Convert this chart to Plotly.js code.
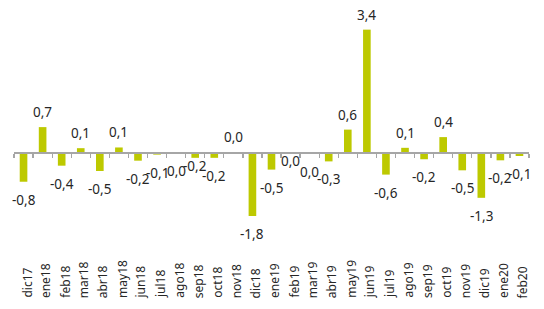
<!DOCTYPE html>
<html>
<head>
<meta charset="utf-8">
<script src="https://cdn.plot.ly/plotly-3.0.1.min.js"></script>
<style>
  html, body { margin: 0; padding: 0; background: #ffffff; }
  #chart { width: 544px; height: 309px; }
</style>
</head>
<body>
<div id="chart"></div>
<script>
// Categories (months)
const categories = ["dic17","ene18","feb18","mar18","abr18","may18","jun18","jul18","ago18","sep18","oct18","nov18","dic18",
                    "ene19","feb19","mar19","abr19","may19","jun19","jul19","ago19","sep19","oct19","nov19","dic19","ene20","feb20"];
// Values
const values = [-0.82, 0.71, -0.37, 0.12, -0.52, 0.14, -0.23, -0.06, -0.01, -0.15, -0.15, 0.01, -1.78,
                -0.48, -0.01, -0.03, -0.25, 0.64, 3.44, -0.62, 0.13, -0.19, 0.43, -0.5, -1.27, -0.22, -0.1];
// Data labels as printed on the chart
const valueLabels = ["-0,8","0,7","-0,4","0,1","-0,5","0,1","-0,2","-0,1","0,0","-0,2","-0,2","0,0","-1,8",
                     "-0,5","0,0","0,0","-0,3","0,6","3,4","-0,6","0,1","-0,2","0,4","-0,5","-1,3","-0,2","-0,1"];
// Tick labels
const tickLabels = categories.slice();

const yMin = -4.02, yMax = 3.99;
const barColor = '#bdc900';
const textColor = '#262626';
const fontFam = '"Noto Sans", "Open Sans", "DejaVu Sans", sans-serif';

// label nudges where labels were moved in the original
const labelNudge = { sep18: 10, feb19: 10 };

const annotations = [];
values.forEach((v, i) => {
  const pos = v > 0;
  let shift = pos ? 15 : -18;
  if (labelNudge[categories[i]]) shift += labelNudge[categories[i]];
  annotations.push({
    xref: 'x', yref: 'y', x: i, y: v,
    text: valueLabels[i], showarrow: false,
    xanchor: 'center', yanchor: 'middle', yshift: shift,
    font: { family: fontFam, size: 13.5, color: textColor }
  });
});
tickLabels.forEach((t, i) => {
  annotations.push({
    xref: 'x', yref: 'paper', x: i, y: 0,
    text: t, showarrow: false, textangle: -90,
    xanchor: 'center', yanchor: 'bottom', xshift: 3, yshift: -4,
    font: { family: fontFam, size: 12, color: textColor }
  });
});

const trace = {
  type: 'bar',
  x: categories.map((c, i) => i),
  y: values,
  marker: { color: barColor },
  hoverinfo: 'skip'
};

const layout = {
  width: 544, height: 309,
  margin: { l: 14, r: 15, t: 10, b: 13, pad: 0 },
  paper_bgcolor: '#ffffff', plot_bgcolor: '#ffffff',
  bargap: 0.6,
  showlegend: false,
  xaxis: {
    type: 'linear',
    range: [-0.5, categories.length - 0.5],
    anchor: 'free',
    position: (0 - yMin) / (yMax - yMin),
    showline: true, linecolor: '#a6a6a6', linewidth: 1.3,
    showgrid: false, zeroline: false,
    tickmode: 'array',
    tickvals: categories.map((c, i) => i - 0.5).concat([categories.length - 0.5]),
    ticks: 'outside', ticklen: 4, tickcolor: '#a6a6a6', tickwidth: 1.3,
    showticklabels: false
  },
  yaxis: {
    range: [yMin, yMax],
    visible: false, showgrid: false, zeroline: false
  },
  annotations: annotations
};

Plotly.newPlot('chart', [trace], layout, { staticPlot: true, displayModeBar: false });
</script>
</body>
</html>
